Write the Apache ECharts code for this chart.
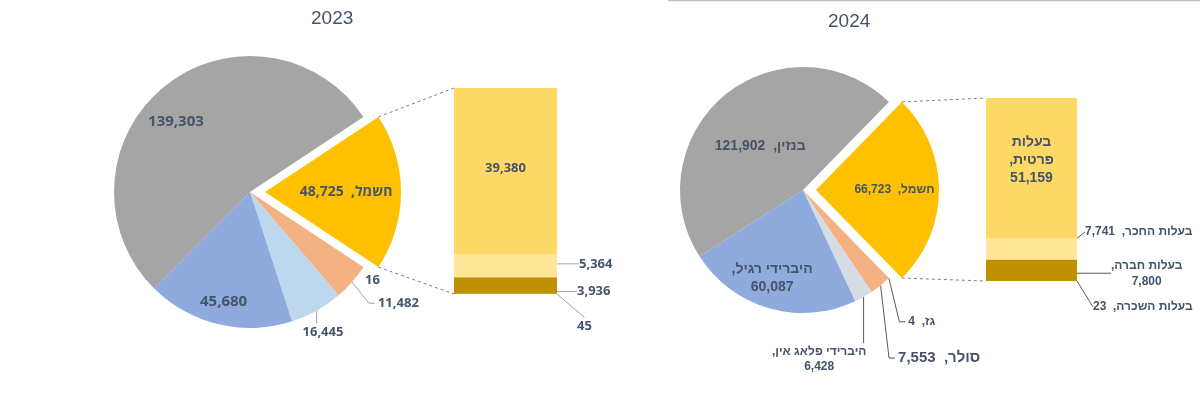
<!DOCTYPE html>
<html><head><meta charset="utf-8">
<script src="https://cdn.jsdelivr.net/npm/echarts@6/dist/echarts.min.js"></script>
<style>html,body{margin:0;padding:0;background:#fff}#c{width:1200px;height:395px}</style>
</head><body><div id="c"></div><script>
// ---------------- DATA ----------------
const titles = ['2023', '2024'];
const pieNames = ['חשמל', 'גז', 'סולר', 'היברידי פלאג אין', 'היברידי רגיל', 'בנזין'];
const pieValues2023 = [48725, 16, 11482, 16445, 45680, 139303];
const pieValues2024 = [66723, 4, 7553, 6428, 60087, 121902];
const barNames = ['בעלות השכרה', 'בעלות חברה', 'בעלות החכר', 'בעלות פרטית']; // bottom -> top
const barValues2023 = [45, 3936, 5364, 39380];
const barValues2024 = [23, 7800, 7741, 51159];

// ---------------- STYLE ----------------
const TXT = '#44546A';
const FONT_L = "'Open Sans','DejaVu Sans',sans-serif";
const FONT_R = "'Liberation Sans','DejaVu Sans',sans-serif";
const pieColors2023 = ['#FFC000', '#A9D18E', '#F4B183', '#BDD7EE', '#8FAADC', '#A5A5A5'];
const pieColors2024 = ['#FFC000', '#A9D18E', '#F4B183', '#D6DCE5', '#8FAADC', '#A5A5A5'];
const barColors = ['#7F6000', '#BF9000', '#FFE699', '#FFD966'];

// dx/dy: shift of the label centre from the library's default label position
// move: 'rel' = plain offset, 'abs' = re-anchored label (guide: 'down' | 'elbow' | none)
const pieStyle2023 = [
  {name: true, sep: '  ', pos: 'inside', size: 14, move: 'rel', dx: 10, dy: 0},
  {pos: 'outside', size: 13, len: 20, len2: 0, line: false, move: 'abs', dx: -20, dy: 2},
  {pos: 'outside', size: 13, len: 32, len2: 0, dist: 2, line: true, move: 'abs', dx: 0, dy: 0, guide: 'elbow'},
  {pos: 'outside', size: 13, len: 14, len2: 6, line: true, move: 'abs', dx: -32, dy: 10, guide: 'down'},
  {pos: 'inside', size: 15, move: 'abs', dx: -10, dy: 41},
  {pos: 'inside', size: 15, move: 'abs', dx: -29, dy: -15}
];
const pieStyle2024 = [
  {name: true, sep: '  ', pos: 'inside', size: 12, move: 'rel', dx: 14, dy: 0},
  {name: true, sep: '  ', pos: 'outside', size: 12, len: 15, len2: 6, line: true, move: 'abs', dx: -2, dy: 33, guide: 'elbow'},
  {name: true, sep: '  ', pos: 'outside', size: 15, len: 15, len2: 6, line: true, move: 'abs', dx: -3, dy: 61, guide: 'elbow'},
  {name: true, sep: '\n', pos: 'outside', size: 12, len: 15, len2: 10, line: true, move: 'abs', dx: -114, dy: 49, guide: 'down'},
  {name: true, sep: '\n', pos: 'inside', size: 14, move: 'abs', dx: -13, dy: 26},
  {name: true, sep: '  ', pos: 'inside', size: 14, move: 'abs', dx: -2, dy: 6}
];
const barStyle2023 = [
  {pos: 'right', size: 13, dx: 15, dy: 32, guide: 'elbow'},
  {pos: 'right', size: 13, dx: 15, dy: 6, guide: 'straight'},
  {pos: 'right', size: 13, dx: 17, dy: -2, guide: 'straight'},
  {pos: 'inside', size: 13, dx: 0, dy: -3}
];
const barStyle2024 = [
  {name: true, sep: '  ', pos: 'right', size: 12, dx: 11, dy: 26, guide: 'elbow'},
  {name: true, sep: '\n', pos: 'right', size: 12, dx: 29, dy: 3, guide: 'straight'},
  {name: true, sep: '  ', pos: 'right', size: 12, dx: 3, dy: -17, guide: 'under'},
  {name: true, sep: '\n', breakName: true, pos: 'inside', size: 14, dx: 0, dy: -8}
];

// ---------------- HELPERS ----------------
const fmtNum = v => v.toLocaleString('en-US');
const rtl = s => s.split('\n').map(l => '\u202B' + l + '\u202C').join('\n');
function labelText(name, value, st) {
  if (!st.name) return fmtNum(value);
  const n = st.breakName ? name.replace(/ /g, '\n') : name;
  return rtl(n + ',' + st.sep + fmtNum(value));
}
function movedBox(st, p) {
  const r = p.labelRect;
  const cx = r.x + r.width / 2 + (st.dx || 0), cy = r.y + r.height / 2 + (st.dy || 0);
  return {cx, cy, left: cx - r.width / 2, top: cy - r.height / 2, bottom: cy + r.height / 2};
}
function barLayoutOf(st, p) {
  const m = movedBox(st, p);
  const o = {x: m.cx, y: m.cy, align: 'center', verticalAlign: 'middle'};
  const b = p.rect;
  if (st.guide && b) {
    const bx = b.x + b.width, by = b.y + b.height / 2, bb = b.y + Math.abs(b.height);
    if (st.guide === 'straight') o.labelLinePoints = [[bx, by], [m.left - 3, m.cy]];
    else if (st.guide === 'under') o.labelLinePoints = [[bx, by], [m.cx, m.bottom + 1]];
    else o.labelLinePoints = [[bx, bb], [bx + 6, m.cy], [m.left - 3, m.cy]];
  }
  return o;
}
function pieLayoutOf(st, p) {
  if (st.move === 'rel') return {dx: st.dx || 0, dy: st.dy || 0};
  if (st.move !== 'abs') return {};
  const m = movedBox(st, p);
  const o = {x: m.cx, y: m.cy, align: 'center', verticalAlign: 'middle'};
  const pts = p.labelLinePoints;
  if (st.line && st.guide && pts && pts.length) {
    const s = pts[0];
    if (st.guide === 'down') o.labelLinePoints = [[s[0], s[1]], [s[0], m.top - 1]];
    else o.labelLinePoints = [[s[0], s[1]], [m.left - 9, m.cy], [m.left - 3, m.cy]];
  }
  return o;
}

function pieSeries(values, styles, center, radius, offset, colors, font, lineColor) {
  const total = values.reduce((a, b) => a + b, 0);
  return {
    type: 'pie', center: center, radius: radius,
    startAngle: 180 * values[0] / total, clockwise: true,
    selectedMode: 'single', selectedOffset: offset,
    avoidLabelOverlap: false, animation: false,
    emphasis: {disabled: true},
    itemStyle: {borderWidth: 0},
    labelLayout: p => pieLayoutOf(styles[p.dataIndex], p),
    data: values.map((v, i) => {
      const st = styles[i];
      return {
        value: v, name: pieNames[i], selected: i === 0,
        itemStyle: {color: colors[i]},
        label: {
          show: true, position: st.pos, formatter: labelText(pieNames[i], v, st),
          fontSize: st.size, fontWeight: 'bold', fontFamily: font, color: TXT,
          distanceToLabelLine: st.dist != null ? st.dist : 5, lineHeight: Math.round(st.size * 1.25)
        },
        labelLine: {
          show: !!st.line, length: st.len || 0, length2: st.len2 || 0, smooth: false, minTurnAngle: 0,
          lineStyle: {color: lineColor, width: 1}
        }
      };
    })
  };
}

function barSeries(values, styles, gridIdx, font, lineColor) {
  return values.map((v, i) => {
    const st = styles[i];
    return {
      type: 'bar', xAxisIndex: gridIdx, yAxisIndex: gridIdx, stack: 'own' + gridIdx,
      barWidth: '100%', animation: false, emphasis: {disabled: true},
      itemStyle: {color: barColors[i]},
      label: {
        show: true, position: st.pos, formatter: labelText(barNames[i], v, st),
        fontSize: st.size, fontWeight: 'bold', fontFamily: font, color: TXT,
        lineHeight: Math.round(st.size * 1.3)
      },
      labelLine: {show: !!st.guide, lineStyle: {color: lineColor, width: 1}},
      labelLayout: p => barLayoutOf(st, p),
      data: [v]
    };
  });
}

const sum = a => a.reduce((x, y) => x + y, 0);
const chart = echarts.init(document.getElementById('c'));
const option = {
  backgroundColor: '#fff',
  animation: false,
  title: [
    {text: titles[0], left: 311, top: 9, padding: 0, textStyle: {fontSize: 19, fontWeight: 'normal', color: TXT, fontFamily: FONT_R}},
    {text: titles[1], left: 828, top: 12, padding: 0, textStyle: {fontSize: 19, fontWeight: 'normal', color: TXT, fontFamily: FONT_R}}
  ],
  grid: [
    {left: 454, top: 88, width: 103, height: 206},
    {left: 986, top: 98, width: 91, height: 183}
  ],
  xAxis: [
    {type: 'category', gridIndex: 0, data: [''], show: false},
    {type: 'category', gridIndex: 1, data: [''], show: false}
  ],
  yAxis: [
    {type: 'value', gridIndex: 0, min: 0, max: sum(barValues2023), show: false},
    {type: 'value', gridIndex: 1, min: 0, max: sum(barValues2024), show: false}
  ],
  graphic: [
    {type: 'line', id: 'topline', shape: {x1: 668, y1: 0.5, x2: 1200, y2: 0.5}, style: {stroke: '#BFBFBF', lineWidth: 1.5}}
  ],
  series: [
    pieSeries(pieValues2023, pieStyle2023, [250, 192], 136, 15, pieColors2023, FONT_L, '#A6A6A6'),
    pieSeries(pieValues2024, pieStyle2024, [803, 190], 123, 13, pieColors2024, FONT_R, '#595959'),
    ...barSeries(barValues2023, barStyle2023, 0, FONT_L, '#A6A6A6'),
    ...barSeries(barValues2024, barStyle2024, 1, FONT_R, '#595959')
  ]
};
chart.setOption(option);

// dashed connectors between the exploded slice and its bar, from the library's layouts
function connectors(pieIdx, barFirstIdx, barCount, offset) {
  const gm = chart.getModel();
  const lay = gm.getSeriesByIndex(pieIdx).getData().getItemLayout(0);
  const mid = (lay.startAngle + lay.endAngle) / 2;
  const ox = lay.cx + Math.cos(mid) * offset, oy = lay.cy + Math.sin(mid) * offset;
  const p1 = [ox + lay.r * Math.cos(lay.startAngle), oy + lay.r * Math.sin(lay.startAngle)];
  const p2 = [ox + lay.r * Math.cos(lay.endAngle), oy + lay.r * Math.sin(lay.endAngle)];
  const top = gm.getSeriesByIndex(barFirstIdx + barCount - 1).getData().getItemLayout(0);
  const bot = gm.getSeriesByIndex(barFirstIdx).getData().getItemLayout(0);
  const topY = Math.min(top.y, top.y + top.height);
  const botY = Math.max(bot.y, bot.y + bot.height);
  const st = {stroke: '#7F7F7F', lineWidth: 1, lineDash: [3, 3]};
  return [
    new echarts.graphic.Line({shape: {x1: p1[0], y1: p1[1], x2: top.x, y2: topY}, style: st, z: 100}),
    new echarts.graphic.Line({shape: {x1: p2[0], y1: p2[1], x2: bot.x, y2: botY}, style: st, z: 100})
  ];
}
const zr = chart.getZr();
[...connectors(0, 2, barValues2023.length, 15),
 ...connectors(1, 2 + barValues2023.length, barValues2024.length, 13)].forEach(el => zr.add(el));
</script></body></html>
